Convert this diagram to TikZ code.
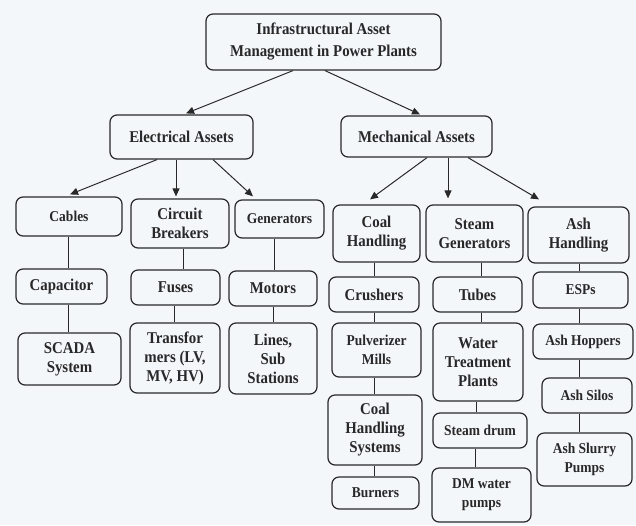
\documentclass[tikz,border=0pt]{standalone}
\usepackage{fontspec}
\setmainfont[FakeStretch=0.9]{Liberation Serif}
\usetikzlibrary{arrows.meta}
\definecolor{bg}{RGB}{244,247,250}
\definecolor{ink}{RGB}{40,40,40}
\tikzset{
  box/.style={draw=ink, line width=1.2pt, rounded corners=7pt, align=center, inner sep=0pt,
    font=\fontsize{16.5}{19}\selectfont\bfseries, text=ink},
  sm/.style={font=\fontsize{15}{19}\selectfont\bfseries},
  arr/.style={draw=ink, line width=1pt, -{Triangle[length=8pt,width=7pt]}},
  ln/.style={draw=ink, line width=1pt}
}
\begin{document}
\begin{tikzpicture}[x=1pt,y=-1pt]
\fill[bg] (0,0) rectangle (636,525);
\useasboundingbox (0,0) rectangle (636,525);
% level 0/1
\node[box, minimum width=235pt, minimum height=56pt, font=\fontsize{16.5}{22}\selectfont\bfseries] (top) at (323.5,42) {Infrastructural Asset\\Management in Power Plants};
\node[box, minimum width=143pt, minimum height=44pt] (elec) at (181.5,137) {Electrical Assets};
\node[box, minimum width=151pt, minimum height=41pt] (mech) at (416.5,136.5) {Mechanical Assets};
% electrical
\node[box, sm, minimum width=106pt, minimum height=39pt] (cables) at (69,216.5) {Cables};
\node[box, minimum width=98pt, minimum height=49pt] (circuit) at (180,223.5) {Circuit\\Breakers};
\node[box, sm, minimum width=89pt, minimum height=38pt] (gens) at (279.5,219) {Generators};
\node[box, minimum width=91pt, minimum height=35pt] (capacitor) at (61.5,286.5) {Capacitor};
\node[box, minimum width=89pt, minimum height=35pt] (fuses) at (175.5,287.5) {Fuses};
\node[box, minimum width=88pt, minimum height=35pt] (motors) at (273,288.5) {Motors};
\node[box, minimum width=103pt, minimum height=52pt] (scada) at (69.5,359) {SCADA\\System};
\node[box, minimum width=90pt, minimum height=70pt] (transf) at (175,358) {Transfor\\mers (LV,\\MV, HV)};
\node[box, minimum width=88pt, minimum height=71pt] (lines) at (273,358.5) {Lines,\\Sub\\Stations};
% mechanical
\node[box, minimum width=87pt, minimum height=57pt] (coalh) at (376.5,233.5) {Coal\\Handling};
\node[box, minimum width=97pt, minimum height=57pt] (steamg) at (474.5,233.5) {Steam\\Generators};
\node[box, minimum width=101pt, minimum height=56pt] (ashh) at (578.5,235) {Ash\\Handling};
\node[box, minimum width=90pt, minimum height=35pt] (crushers) at (374,294.5) {Crushers};
\node[box, minimum width=89pt, minimum height=35pt] (tubes) at (477.5,294.5) {Tubes};
\node[box, sm, minimum width=95pt, minimum height=36pt] (esps) at (580.5,290) {ESPs};
\node[box, sm, minimum width=89pt, minimum height=54pt] (pulv) at (376.5,350) {Pulverizer\\Mills};
\node[box, minimum width=90pt, minimum height=78pt] (water) at (478,362) {Water\\Treatment\\Plants};
\node[box, sm, minimum width=100pt, minimum height=35pt] (hoppers) at (583,341.5) {Ash Hoppers};
\node[box, minimum width=94pt, minimum height=70pt] (chs) at (375,430) {Coal\\Handling\\Systems};
\node[box, sm, minimum width=94pt, minimum height=35pt] (drum) at (480,430.5) {Steam drum};
\node[box, sm, minimum width=90pt, minimum height=35pt] (silos) at (587,395.5) {Ash Silos};
\node[box, sm, minimum width=87pt, minimum height=32pt] (burners) at (375.5,493) {Burners};
\node[box, sm, minimum width=99pt, minimum height=54pt] (dm) at (481.5,495) {DM water\\pumps};
\node[box, sm, minimum width=95pt, minimum height=53pt] (slurry) at (584.5,459.5) {Ash Slurry\\Pumps};
% arrows
\draw[arr] ([xshift=-30.5pt]top.south) -- ([xshift=4.5pt,yshift=1pt]elec.north);
\draw[arr] ([xshift=1.5pt]top.south) -- ([xshift=3.5pt,yshift=1pt]mech.north);
\draw[arr] ([xshift=-24.5pt]elec.south) -- ([xshift=1pt,yshift=2pt]cables.north);
\draw[arr] ([xshift=-5.5pt]elec.south) -- ([xshift=-4pt,yshift=2pt]circuit.north);
\draw[arr] ([xshift=31.5pt]elec.south) -- ([xshift=-26.5pt,yshift=3pt]gens.north);
\draw[arr] ([xshift=10.5pt]mech.south) -- ([xshift=-6.5pt,yshift=5pt]coalh.north);
\draw[arr] ([xshift=31.5pt]mech.south) -- ([xshift=-26.5pt,yshift=6pt]steamg.north);
\draw[arr] ([xshift=51.5pt]mech.south) -- ([xshift=-39.5pt,yshift=7pt]ashh.north);
% lines
\draw[ln] ([xshift=-1pt]cables.south) -- ([xshift=-1pt]cables.south |- capacitor.north);
\draw[ln] ([xshift=6.5pt]capacitor.south) -- ([xshift=6.5pt]capacitor.south |- scada.north);
\draw[ln] ([xshift=3pt]circuit.south) -- ([xshift=3pt]circuit.south |- fuses.north);
\draw[ln] ([xshift=-1.5pt]fuses.south) -- ([xshift=-1.5pt]fuses.south |- transf.north);
\draw[ln] ([xshift=-5.5pt]gens.south) -- ([xshift=-5.5pt]gens.south |- motors.north);
\draw[ln] (motors.south) -- (motors.south |- lines.north);
\draw[ln] ([xshift=-2.5pt]coalh.south) -- ([xshift=-2.5pt]coalh.south |- crushers.north);
\draw[ln] (crushers.south) -- (crushers.south |- pulv.north);
\draw[ln] ([xshift=-2.5pt]pulv.south) -- ([xshift=-2.5pt]pulv.south |- chs.north);
\draw[ln] ([xshift=-1pt]chs.south) -- ([xshift=-1pt]chs.south |- burners.north);
\draw[ln] ([xshift=6.5pt]steamg.south) -- ([xshift=6.5pt]steamg.south |- tubes.north);
\draw[ln] ([xshift=3.5pt]tubes.south) -- ([xshift=3.5pt]tubes.south |- water.north);
\draw[ln] ([xshift=-2pt]water.south) -- ([xshift=-2pt]water.south |- drum.north);
\draw[ln] ([xshift=-5pt]drum.south) -- ([xshift=-5pt]drum.south |- dm.north);
\draw[ln] ([xshift=0.5pt]ashh.south) -- ([xshift=0.5pt]ashh.south |- esps.north);
\draw[ln] ([xshift=-1.5pt]esps.south) -- ([xshift=-1.5pt]esps.south |- hoppers.north);
\draw[ln] ([xshift=-4pt]hoppers.south) -- ([xshift=-4pt]hoppers.south |- silos.north);
\draw[ln] ([xshift=-8pt]silos.south) -- ([xshift=-8pt]silos.south |- slurry.north);
\end{tikzpicture}
\end{document}
